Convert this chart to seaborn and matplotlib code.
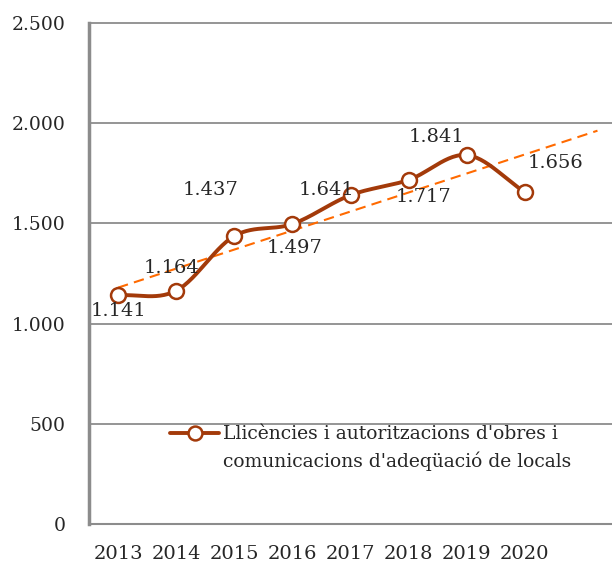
import numpy as np
import pandas as pd
import matplotlib
matplotlib.use("Agg")
import matplotlib.pyplot as plt
from matplotlib.lines import Line2D
import seaborn as sns

# === DATA ===
YEARS = ["2013", "2014", "2015", "2016", "2017", "2018", "2019", "2020"]
LICENCES = [1141, 1164, 1437, 1497, 1641, 1717, 1841, 1656]
SERIES_LINES = ["Llicències i autoritzacions d'obres i",
                "comunicacions d'adeqüació de locals"]
Y_TICKS = [0, 500, 1000, 1500, 2000, 2500]
Y_TICK_LABELS = ["0", "500", "1.000", "1.500", "2.000", "2.500"]

# label offsets (pixels) relative to each point
LABEL_OFFSETS = [(0, -16), (-5, 23), (-24, 46), (2, -24), (-24, 5), (15, -17), (-30, 18), (31, 29)]

LINE_COLOR = "#A33A0A"
TREND_COLOR = "#FF6A00"
GRID_COLOR = "#8C8C8C"
TEXT_COLOR = "#262626"
FONT_SIZE = 13.5

sns.set_theme(style="white")
plt.rcParams["font.family"] = ["DejaVu Serif"]


def smooth_curve(x, y, n=30):
    """Catmull-Rom style smoothing, similar to Excel's smoothed line."""
    x = np.asarray(x, float)
    y = np.asarray(y, float)
    px = np.concatenate([[2 * x[0] - x[1]], x, [2 * x[-1] - x[-2]]])
    py = np.concatenate([[2 * y[0] - y[1]], y, [2 * y[-1] - y[-2]]])
    xs, ys = [], []
    t = np.linspace(0, 1, n)
    for i in range(1, len(px) - 2):
        for arr, out in ((px, xs), (py, ys)):
            p0, p1, p2, p3 = arr[i - 1], arr[i], arr[i + 1], arr[i + 2]
            seg = 0.5 * ((2 * p1) + (-p0 + p2) * t
                         + (2 * p0 - 5 * p1 + 4 * p2 - p3) * t ** 2
                         + (-p0 + 3 * p1 - 3 * p2 + p3) * t ** 3)
            out.extend(seg)
    return np.array(xs), np.array(ys)


df = pd.DataFrame({"Year": YEARS, "Value": LICENCES})
df["pos"] = np.arange(len(df))

fig = plt.figure(figsize=(6.12, 5.63), dpi=100)
ax = fig.add_axes([89 / 612, 1 - 524 / 563, 1 - 89 / 612, (524 - 23) / 563])

# grid lines
for yv in Y_TICKS[1:]:
    ax.axhline(yv, color=GRID_COLOR, lw=1.3, zorder=0, clip_on=False)

# trend line (linear fit, forecast forward)
slope, intercept = np.polyfit(df["pos"], df["Value"], 1)
tx = np.array([0, 8.25])
ax.plot(tx, intercept + slope * tx, color=TREND_COLOR, lw=1.5,
        linestyle=(0, (5, 3)), zorder=2)

# smoothed series line
sx, sy = smooth_curve(df["pos"], df["Value"])
ax.plot(sx, sy, color=LINE_COLOR, lw=2.8, zorder=3, solid_capstyle="round")
sns.scatterplot(data=df, x="pos", y="Value", ax=ax, s=115, marker="o",
                facecolor="white", edgecolor=LINE_COLOR, linewidth=1.8, zorder=4,
                legend=False)

# data labels
for (p, v), (dx, dy) in zip(zip(df["pos"], df["Value"]), LABEL_OFFSETS):
    ax.annotate(f"{v / 1000:.3f}", (p, v), xytext=(dx, dy), textcoords="offset pixels",
                ha="center", va="center", fontsize=FONT_SIZE + 0.5, color=TEXT_COLOR, zorder=5)

# legend: handle next to the first line only
handle = Line2D([], [], color=LINE_COLOR, lw=2.8, marker="o", markersize=10,
                markerfacecolor="white", markeredgecolor=LINE_COLOR, markeredgewidth=1.8)
blank = Line2D([], [], color="none")
leg = ax.legend([handle, blank], SERIES_LINES, loc="upper left",
                bbox_to_anchor=(72 / 523, (524 - 416) / 501), frameon=False,
                fontsize=FONT_SIZE, handlelength=2.6, handletextpad=0.2,
                borderpad=0, labelspacing=0.45)
for t in leg.get_texts():
    t.set_color(TEXT_COLOR)

# axes
ax.set_xlim(-0.5, 8.5)
ax.set_ylim(0, 2500)
ax.set_xticks(df["pos"])
ax.set_xticklabels(YEARS)
ax.set_xticks(np.arange(-0.5, 8.0, 1.0), minor=True)
ax.set_yticks(Y_TICKS)
ax.set_yticklabels(Y_TICK_LABELS)
ax.tick_params(axis="x", which="major", length=0, pad=15, labelsize=FONT_SIZE + 0.5,
               labelcolor=TEXT_COLOR)
ax.tick_params(axis="x", which="minor", length=5, width=1.3, color=GRID_COLOR)
ax.tick_params(axis="y", length=7, width=1.3, color=GRID_COLOR, pad=10,
               labelsize=FONT_SIZE, labelcolor=TEXT_COLOR)
ax.set_xlabel("")
ax.set_ylabel("")

for s in ["top", "right"]:
    ax.spines[s].set_visible(False)
ax.spines["left"].set_color(GRID_COLOR)
ax.spines["left"].set_linewidth(2.5)
ax.spines["bottom"].set_color(GRID_COLOR)
ax.spines["bottom"].set_linewidth(1.5)

fig.savefig("out.png", dpi=100)
